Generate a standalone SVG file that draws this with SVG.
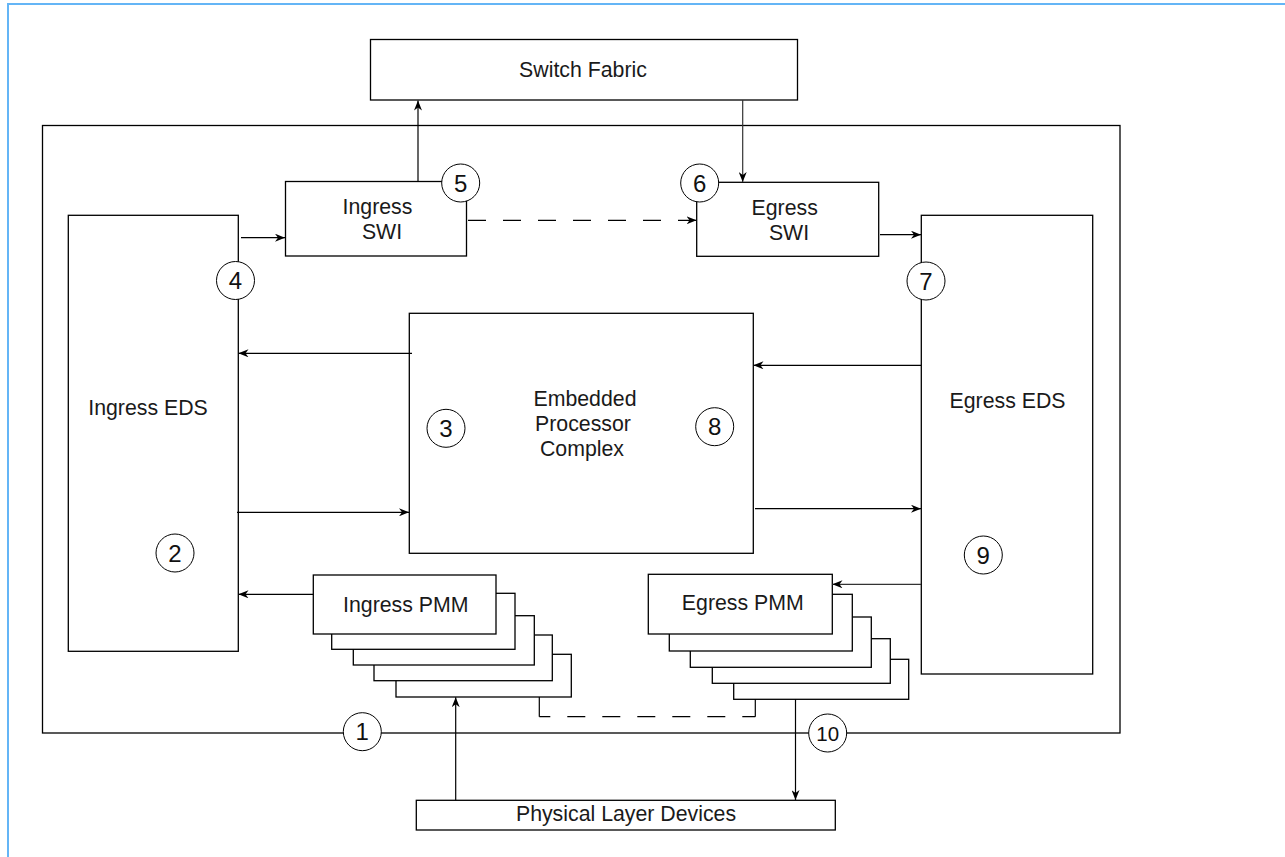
<svg xmlns="http://www.w3.org/2000/svg" width="1285" height="857" viewBox="0 0 1285 857">
  <style>
    .box { fill: #ffffff; stroke: #000000; stroke-width: 1.3; }
    .frame { fill: none; stroke: #000000; stroke-width: 1.3; }
    .lbl { font-family: "Liberation Sans", Arial, sans-serif; font-size: 21.3px; fill: #1a1a1a; text-anchor: middle; }
    .num { font-family: "Liberation Sans", Arial, sans-serif; font-size: 24px; fill: #111111; text-anchor: middle; }
    .num2 { font-family: "Liberation Sans", Arial, sans-serif; font-size: 20.5px; fill: #111111; text-anchor: middle; }
    .tag { fill: #ffffff; stroke: #000000; stroke-width: 1; }
    .wire { fill: none; stroke: #000000; stroke-width: 1.2; }
    .wire-grey { fill: none; stroke: #333333; stroke-width: 1.2; }
    .dash { fill: none; stroke: #000000; stroke-width: 1.2; stroke-dasharray: 18 17; }
  </style>
  <defs>
    <marker id="arrow" viewBox="0 0 10 8" refX="10" refY="4" markerWidth="10" markerHeight="8" markerUnits="userSpaceOnUse" orient="auto">
      <path d="M0,0 L10,4 L0,8 L3,4 z" fill="#000000"/>
    </marker>
  </defs>

  <!-- page border -->
  <rect x="8" y="4" width="1400" height="1000" fill="none" stroke="#64b5f6" stroke-width="2"/>

  <!-- network processor outline -->
  <rect id="chip" class="frame" x="42.5" y="125.5" width="1077.5" height="607.5"/>

  <g id="switch-fabric">
    <rect class="box" x="370.5" y="39.5" width="427" height="60.5"/>
    <text class="lbl" x="583" y="76.5">Switch Fabric</text>
  </g>

  <g id="ingress-eds">
    <rect class="box" x="68.3" y="215.3" width="170" height="436"/>
    <text class="lbl" x="148" y="414.5">Ingress EDS</text>
  </g>

  <g id="egress-eds">
    <rect class="box" x="921.3" y="215.3" width="171.4" height="458.7"/>
    <text class="lbl" x="1007.5" y="407.5">Egress EDS</text>
  </g>

  <g id="ingress-swi">
    <rect class="box" x="285.5" y="181.5" width="181" height="74.5"/>
    <text class="lbl" x="377.5" y="214.3">Ingress</text>
    <text class="lbl" x="382" y="239.3">SWI</text>
  </g>

  <g id="egress-swi">
    <rect class="box" x="696.7" y="182.3" width="182" height="74"/>
    <text class="lbl" x="784.7" y="215">Egress</text>
    <text class="lbl" x="789" y="240">SWI</text>
  </g>

  <g id="epc">
    <rect class="box" x="409.3" y="313.3" width="344" height="240"/>
    <text class="lbl" x="585" y="405.5">Embedded</text>
    <text class="lbl" x="583" y="430.5">Processor</text>
    <text class="lbl" x="582" y="456">Complex</text>
  </g>

  <g id="ingress-pmm">
    <rect class="box" x="396" y="654.3" width="175.3" height="42.7"/>
    <rect class="box" x="374" y="635" width="178.3" height="45.7"/>
    <rect class="box" x="353.3" y="615.7" width="181" height="49.3"/>
    <rect class="box" x="331.7" y="593.3" width="183.3" height="56"/>
    <rect class="box" x="313.3" y="575" width="182.7" height="59"/>
    <text class="lbl" x="405.8" y="612">Ingress PMM</text>
  </g>

  <g id="egress-pmm">
    <rect class="box" x="733.7" y="659.3" width="175" height="40"/>
    <rect class="box" x="712.3" y="638.7" width="178" height="44.6"/>
    <rect class="box" x="690.3" y="617" width="181" height="50.3"/>
    <rect class="box" x="669.3" y="594.3" width="183" height="56.7"/>
    <rect class="box" x="648.3" y="574.3" width="184" height="59.7"/>
    <text class="lbl" x="742.8" y="610">Egress PMM</text>
  </g>

  <g id="phy">
    <rect class="box" x="416.3" y="800.3" width="419" height="29.7"/>
    <text class="lbl" x="626" y="821">Physical Layer Devices</text>
  </g>

  <g id="connectors">
    <!-- switch interface -->
    <line class="wire" x1="418" y1="181.5" x2="418" y2="100.5" marker-end="url(#arrow)"/>
    <line class="wire-grey" x1="742.7" y1="100" x2="742.7" y2="182" marker-end="url(#arrow)"/>
    <line class="wire" x1="241" y1="237.7" x2="285" y2="237.7" marker-end="url(#arrow)"/>
    <line class="dash" x1="468" y1="220.3" x2="696.5" y2="220.3" marker-end="url(#arrow)"/>
    <line class="wire" x1="880" y1="234.7" x2="921" y2="234.7" marker-end="url(#arrow)"/>
    <!-- processor complex -->
    <line class="wire" x1="412" y1="353.3" x2="238.5" y2="353.3" marker-end="url(#arrow)"/>
    <line class="wire" x1="237" y1="512.3" x2="409" y2="512.3" marker-end="url(#arrow)"/>
    <line class="wire" x1="921" y1="365.3" x2="753.5" y2="365.3" marker-end="url(#arrow)"/>
    <line class="wire" x1="755" y1="508.7" x2="921" y2="508.7" marker-end="url(#arrow)"/>
    <!-- port interfaces -->
    <line class="wire" x1="313.3" y1="594.3" x2="238.5" y2="594.3" marker-end="url(#arrow)"/>
    <line class="wire-grey" x1="921" y1="584.3" x2="832.5" y2="584.3" marker-end="url(#arrow)"/>
    <line class="wire" x1="455.7" y1="800.3" x2="455.7" y2="697.2" marker-end="url(#arrow)"/>
    <line class="wire" x1="795.5" y1="699.3" x2="795.5" y2="800" marker-end="url(#arrow)"/>
    <!-- wrap path between the PMM stacks -->
    <line class="wire" x1="539.3" y1="697" x2="539.3" y2="716.7"/>
    <line class="wire" x1="755.3" y1="699.3" x2="755.3" y2="716.7"/>
    <line class="dash" x1="539.3" y1="716.7" x2="755.3" y2="716.7" stroke-dashoffset="7"/>
  </g>

  <g id="markers">
    <g id="m1"><circle class="tag" cx="362.3" cy="731.7" r="19"/><text class="num" x="362.3" y="740.3">1</text></g>
    <g id="m2"><circle class="tag" cx="175" cy="553" r="19"/><text class="num" x="175" y="561.6">2</text></g>
    <g id="m3"><circle class="tag" cx="446" cy="428.3" r="19"/><text class="num" x="446" y="436.9">3</text></g>
    <g id="m4"><circle class="tag" cx="235.5" cy="280.5" r="19"/><text class="num" x="235.5" y="289.1">4</text></g>
    <g id="m5"><circle class="tag" cx="460.7" cy="183" r="19"/><text class="num" x="460.7" y="191.6">5</text></g>
    <g id="m6"><circle class="tag" cx="699.7" cy="183" r="19"/><text class="num" x="699.7" y="191.6">6</text></g>
    <g id="m7"><circle class="tag" cx="926" cy="281" r="19"/><text class="num" x="926" y="289.6">7</text></g>
    <g id="m8"><circle class="tag" cx="714.7" cy="426.7" r="19"/><text class="num" x="714.7" y="435.3">8</text></g>
    <g id="m9"><circle class="tag" cx="983.3" cy="555" r="19"/><text class="num" x="983.3" y="563.6">9</text></g>
    <g id="m10"><circle class="tag" cx="827.7" cy="733" r="19"/><text class="num2" x="827.7" y="740.5">10</text></g>
  </g>
</svg>
